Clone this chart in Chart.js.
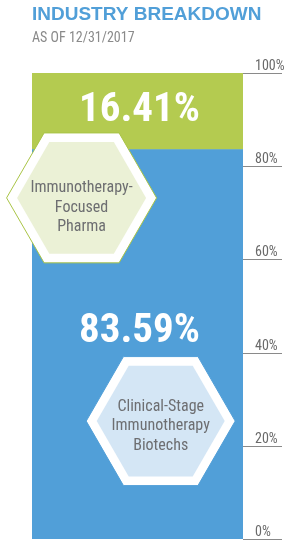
<!DOCTYPE html>
<html>
<head>
<meta charset="utf-8">
<script src="https://cdn.jsdelivr.net/npm/chart.js@4.4.1/dist/chart.umd.min.js"></script>
<style>
  html, body { margin: 0; padding: 0; background: #fff; }
  canvas { display: block; }
</style>
</head>
<body>
<canvas id="myChart" width="302" height="551"></canvas>
<script>
// data
var categories = ['Industry'];
var segmentNames = ['Clinical-Stage Immunotherapy Biotechs', 'Immunotherapy-Focused Pharma'];
var segmentLines = [['Clinical-Stage', 'Immunotherapy', 'Biotechs'], ['Immunotherapy-', 'Focused', 'Pharma']];
var shares = [83.59, 16.41];
var tickValues = [0, 20, 40, 60, 80, 100];

// styles
var barColors = ['#519fd8', '#b4cb50'];
var hexFill = ['#d4e6f5', '#ebf1d6'];
var hexEdge = ['#519fd8', '#a9c446'];
var narrow = '"Liberation Sans Narrow", "Roboto Condensed", "Liberation Sans", Arial, sans-serif';

// where the labels sit, in axis value and bar width fraction
var pctAt = [44.4, 91.8];
var hexAt = [{ v: 25.3, fx: 0.61, r: 74.5, dy: 5 }, { v: 73.2, fx: 0.235, r: 75, dy: 10 }];

function hexPath(ctx, cx, cy, r) {
    var h = r * Math.sqrt(3) / 2;
    ctx.beginPath();
    ctx.moveTo(cx - r, cy);
    ctx.lineTo(cx - r / 2, cy - h);
    ctx.lineTo(cx + r / 2, cy - h);
    ctx.lineTo(cx + r, cy);
    ctx.lineTo(cx + r / 2, cy + h);
    ctx.lineTo(cx - r / 2, cy + h);
    ctx.closePath();
}

var overlay = {
    id: 'overlay',
    afterDatasetsDraw: function (chart) {
        var ctx = chart.ctx;
        var area = chart.chartArea;
        var y = chart.scales.y;
        ctx.save();

        // tick lines with labels above them
        ctx.strokeStyle = '#8a8a8a';
        ctx.lineWidth = 1;
        ctx.fillStyle = '#6a6a6a';
        ctx.font = '14px ' + narrow;
        ctx.textAlign = 'left';
        ctx.textBaseline = 'alphabetic';
        tickValues.forEach(function (t) {
            var py = Math.round(y.getPixelForValue(t)) + 0.5;
            ctx.beginPath();
            ctx.moveTo(area.right, py);
            ctx.lineTo(area.right + 39, py);
            ctx.stroke();
            ctx.fillText(t + '%', area.right + 12, py - 3.5);
        });

        // big percentages
        var meta = chart.getDatasetMeta(0).data[0];
        ctx.fillStyle = '#ffffff';
        ctx.font = 'bold 41px ' + narrow;
        ctx.textAlign = 'center';
        ctx.textBaseline = 'middle';
        shares.forEach(function (s, i) {
            ctx.fillText(s.toFixed(2) + '%', meta.x + 2, y.getPixelForValue(pctAt[i]));
        });

        // hexagon badges
        hexAt.forEach(function (h, i) {
            var cx = area.left + (area.right - area.left) * h.fx;
            var cy = y.getPixelForValue(h.v);
            hexPath(ctx, cx, cy, h.r);
            ctx.fillStyle = '#ffffff';
            ctx.fill();
            ctx.strokeStyle = hexEdge[i];
            ctx.lineWidth = 1;
            ctx.stroke();
            hexPath(ctx, cx, cy, h.r - 10.5);
            ctx.fillStyle = hexFill[i];
            ctx.fill();
            ctx.fillStyle = '#6d6e71';
            ctx.font = '16px ' + narrow;
            var lines = segmentLines[i];
            lines.forEach(function (line, k) {
                ctx.fillText(line, cx, cy + (k - (lines.length - 1) / 2) * 19.5 + h.dy);
            });
        });
        ctx.restore();
    }
};

var ctx = document.getElementById('myChart').getContext('2d');

var myChart = new Chart(ctx, {
    type: 'bar',
    data: {
        labels: categories,
        datasets: [{
            label: segmentNames[0],
            data: [shares[0]],
            backgroundColor: barColors[0],
            borderWidth: 0
        }, {
            label: segmentNames[1],
            data: [shares[1]],
            backgroundColor: barColors[1],
            borderWidth: 0
        }]
    },
    options: {
        responsive: false,
        animation: false,
        layout: { padding: { left: 32, right: 0, top: 0, bottom: 12 } },
        datasets: { bar: { barPercentage: 1, categoryPercentage: 1 } },
        scales: {
            x: { stacked: true, display: false },
            y: {
                stacked: true,
                position: 'right',
                min: 0,
                max: 100,
                grid: { display: false },
                border: { display: false },
                ticks: { display: false },
                // room on the right for the tick marks drawn by the overlay
                afterFit: function (scale) { scale.width = 59; }
            }
        },
        plugins: {
            legend: { display: false },
            tooltip: { enabled: false },
            title: {
                display: true,
                align: 'start',
                text: 'INDUSTRY BREAKDOWN',
                color: '#519fd8',
                font: { family: '"Liberation Sans", Arial, sans-serif', size: 19, weight: 'bold', lineHeight: 1.2 },
                padding: { top: 3, bottom: 4.5 }
            },
            subtitle: {
                display: true,
                align: 'start',
                text: 'AS OF 12/31/2017',
                color: '#8a8a8a',
                font: { family: narrow, size: 14, lineHeight: 1.2 },
                padding: { top: 0, bottom: 25.9 }
            }
        }
    },
    plugins: [overlay]
});
</script>
</body>
</html>
